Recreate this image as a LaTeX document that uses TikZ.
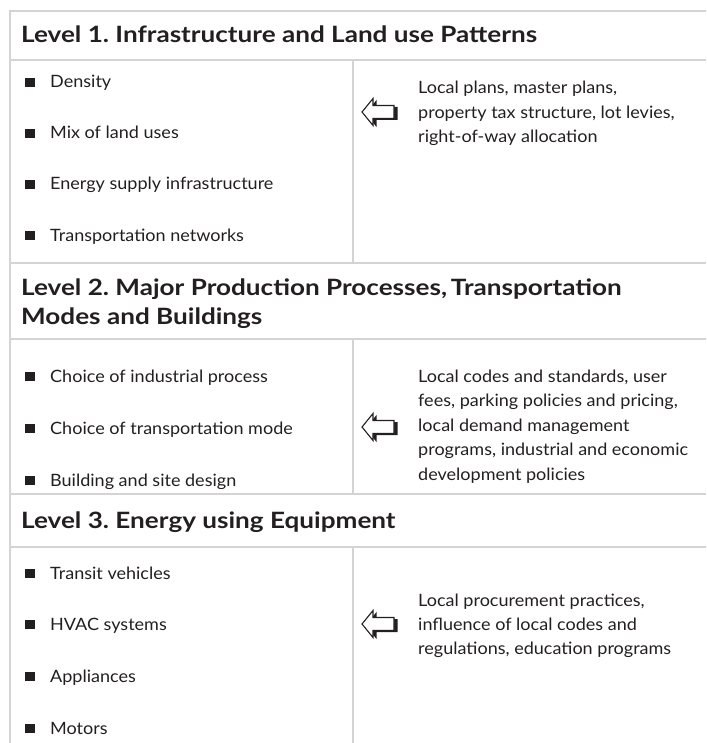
\documentclass[tikz,border=0pt]{standalone}
\usepackage{fontspec}
\setmainfont{Lato}
\newfontfamily\headfont[FakeStretch=1.16]{Lato}
\newfontfamily\bodyfont[FakeStretch=1.06]{Lato}
\definecolor{rule}{RGB}{212,212,212}
\definecolor{ink}{RGB}{35,31,32}
\frenchspacing

\tikzset{
  rulel/.style={draw=rule, line width=2.6pt},
  head/.style={anchor=base west, inner sep=0pt, text=ink,
    font=\headfont\fontsize{22.5}{28}\selectfont\bfseries},
  item/.style={anchor=base west, inner sep=0pt, text=ink,
    font=\bodyfont\fontsize{17}{20}\selectfont},
  note/.style={anchor=base west, inner sep=0pt, text=ink,
    font=\bodyfont\fontsize{17}{20}\selectfont},
  sq/.style={fill=ink, minimum size=9.5pt, inner sep=0pt, anchor=south west},
  shadowarrow/.pic={
    % drop shadow to the lower right, then the white arrow body on top
    \fill[ink, shift={(3.5,1.5)}] (-18,0) -- (-7,-13.5) -- (-7,-6.5) -- (14,-6.5)
      -- (14,6.5) -- (-7,6.5) -- (-7,13.5) -- cycle;
    \filldraw[fill=white, draw=ink, line width=1.1pt, line join=miter]
      (-18,0) -- (-7,-13.5) -- (-7,-6.5) -- (14,-6.5)
      -- (14,6.5) -- (-7,6.5) -- (-7,13.5) -- cycle;
  }
}

\begin{document}
\begin{tikzpicture}[x=1pt,y=-1pt]
\useasboundingbox (0,0) rectangle (706,743);

% table rules
\foreach \y in {11,60,263,339,494,547}
  \draw[rulel] (8.7,\y) -- (706,\y);
\draw[rulel] (10,9.7) -- (10,743);
\draw[rulel] (353,60) -- (353,263);
\draw[rulel] (353,339) -- (353,494);
\draw[rulel] (353,547) -- (353,743);

% level headings
\node[head] (h1) at (21,43) {Level 1. Infrastructure and Land use Patterns};
\node[head] (h2a) at (21,295) {Level 2. Major Production Processes,\,Transportation};
\node[head] (h2b) at (21,324) {Modes and Buildings};
\node[head] (h3) at (21,528) {Level 3. Energy using Equipment};

% bulleted items
\foreach \t/\y [count=\i] in {Density/88, Mix of land uses/139,
    Energy supply infrastructure/190, Transportation networks/241} {
  \node[sq] (sa\i) at (25,\y-0.5) {};
  \node[item] (ta\i) at (50,\y) {\t};
}
\foreach \t/\y [count=\i] in {Choice of industrial process/382,
    Choice of transportation mode/434, Building and site design/486} {
  \node[sq] (sb\i) at (25,\y-0.5) {};
  \node[item] (tb\i) at (50,\y) {\t};
}
\foreach \t/\y [count=\i] in {Transit vehicles/579, HVAC systems/630,
    Appliances/682, Motors/734} {
  \node[sq] (sc\i) at (25,\y-0.5) {};
  \node[item] (tc\i) at (50,\y) {\t};
}

% policy instruments
\node[note] (na1) at (418,94) {Local plans, master plans,};
\node[note] (na2) at (418,118.5) {property tax structure, lot levies,};
\node[note] (na3) at (418,143) {right-of-way allocation};
\pic at (380,112) {shadowarrow};

\node[note] (nb1) at (418,382) {Local codes and standards, user};
\node[note] (nb2) at (418,406.5) {fees, parking policies and pricing,};
\node[note] (nb3) at (418,431) {local demand management};
\node[note] (nb4) at (418,455.5) {programs, industrial and economic};
\node[note] (nb5) at (418,480) {development policies};
\pic at (380,427) {shadowarrow};

\node[note] (nc1) at (418,606) {Local procurement practices,};
\node[note] (nc2) at (418,630) {influence of local codes and};
\node[note] (nc3) at (418,654) {regulations, education programs};
\pic at (380,624) {shadowarrow};
\end{tikzpicture}
\end{document}
